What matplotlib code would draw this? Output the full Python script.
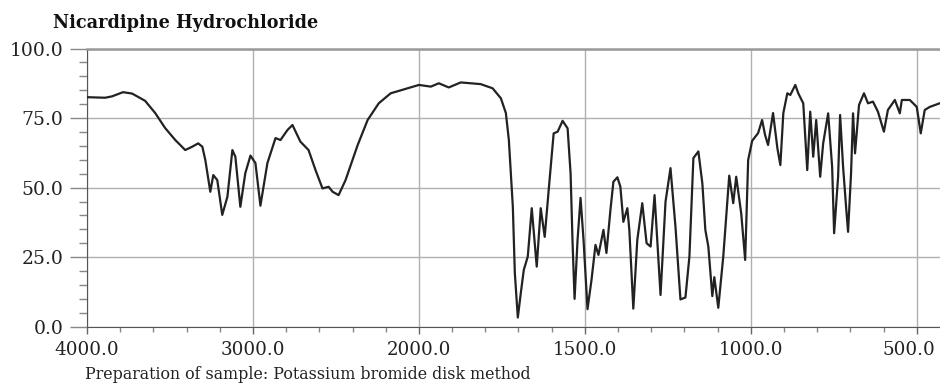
import numpy as np
import matplotlib
matplotlib.use("Agg")
import matplotlib.pyplot as plt
import matplotlib.transforms as mtransforms

# IR spectrum: wavenumber (cm-1) and transmittance (%)
# 4000 - 2000 cm-1
wn_high = [4000, 3891, 3849, 3783, 3728, 3650, 3589, 3529, 3468, 3408,
           3366, 3330, 3305, 3287, 3257, 3239, 3215, 3185, 3154, 3124,
           3106, 3076, 3046, 3015, 2985, 2955, 2913, 2864, 2834, 2792,
           2762, 2714, 2665, 2623, 2581, 2544, 2520, 2484, 2442, 2369,
           2309, 2242, 2170, 2091, 2000]
t_high = [82.5, 82.3, 82.8, 84.3, 83.8, 81.2, 76.8, 71.4, 67.1, 63.5,
          64.7, 65.9, 64.7, 59.9, 48.5, 54.5, 52.7, 40.2, 46.7, 63.5,
          61.1, 43.1, 55.2, 61.5, 58.8, 43.5, 58.8, 67.8, 67.1, 70.7,
          72.5, 66.5, 63.5, 56.3, 49.7, 50.3, 48.5, 47.3, 52.7, 65.3,
          74.3, 80.3, 83.9, 85.3, 86.9]

# 2000 - 1400 cm-1
wn_carbonyl = [1964, 1940, 1910, 1874, 1814, 1778, 1753, 1738, 1729, 1717,
               1711, 1702, 1693, 1684, 1672, 1660, 1645, 1633, 1621, 1609,
               1594, 1582, 1567, 1552, 1543, 1537, 1531, 1522, 1513, 1504,
               1492, 1480, 1468, 1459, 1444, 1435, 1423, 1414, 1402]
t_carbonyl = [86.3, 87.5, 86.0, 87.8, 87.2, 85.7, 82.1, 76.8, 67.1, 43.1,
              19.3, 3.3, 12.1, 20.4, 25.2, 42.6, 21.6, 42.6, 32.3, 49.1,
              69.5, 70.1, 74.0, 71.3, 55.1, 30.0, 10.0, 31.2, 46.3, 31.2,
              6.3, 16.8, 29.4, 25.8, 34.8, 26.5, 41.9, 52.1, 53.7]

# 1400 - 1000 cm-1
wn_finger = [1393, 1384, 1372, 1366, 1354, 1342, 1327, 1314, 1302, 1290,
             1272, 1257, 1242, 1227, 1212, 1197, 1185, 1173, 1158, 1146,
             1137, 1128, 1116, 1110, 1098, 1083, 1065, 1053, 1044, 1029,
             1017, 1008, 996]
t_finger = [50.3, 37.7, 42.6, 34.8, 6.5, 31.2, 44.4, 30.0, 28.8, 47.3,
            11.4, 44.9, 57.0, 35.9, 9.8, 10.5, 25.2, 60.6, 63.0, 51.5,
            34.8, 28.8, 11.0, 17.8, 6.8, 25.2, 54.3, 44.4, 53.9, 40.8,
            24.0, 59.9, 66.8]

# 1000 - 430 cm-1
wn_low = [978, 966, 957, 948, 933, 920, 911, 902, 890, 881,
          866, 857, 842, 830, 821, 812, 803, 791, 782, 767,
          755, 749, 737, 731, 722, 713, 707, 698, 692, 686,
          674, 659, 647, 632, 617, 599, 587, 566, 551, 545,
          521, 500, 488, 476, 461, 431]
t_low = [69.6, 74.3, 68.9, 65.3, 76.8, 64.2, 58.1, 76.8, 83.9, 83.3,
         86.9, 83.9, 80.3, 56.3, 77.3, 61.1, 74.3, 53.9, 65.9, 76.7,
         57.5, 33.6, 53.9, 76.1, 57.5, 43.1, 34.1, 55.1, 76.7, 62.3,
         79.7, 83.9, 80.3, 80.9, 77.3, 70.1, 77.9, 81.5, 76.7, 81.5,
         81.5, 79.0, 69.5, 77.9, 79.0, 80.3]

x_major = [4000, 3000, 2000, 1500, 1000, 500]
y_major = [0, 25, 50, 75, 100]

wavenumber = wn_high + wn_carbonyl + wn_finger + wn_low
transmittance = t_high + t_carbonyl + t_finger + t_low


# the chart is drawn at half scale above 2000 cm-1
def forward(w):
    w = np.asarray(w, dtype=float)
    return np.where(w > 2000, 2000 + (w - 2000) / 2, w)


def inverse(u):
    u = np.asarray(u, dtype=float)
    return np.where(u > 2000, 2000 + (u - 2000) * 2, u)


plt.rcParams['font.family'] = ['DejaVu Serif']

fig = plt.figure(figsize=(9.4, 3.88), dpi=100)
ax = fig.add_axes([87 / 940, 61.3 / 388, 853 / 940, 278.2 / 388])

ax.plot(wavenumber, transmittance, color='#222222', lw=1.6, zorder=3)

ax.set_xscale('function', functions=(forward, inverse))
ax.set_xlim(4000, 430)
ax.set_ylim(0, 100)

ax.set_xticks(x_major)
ax.set_xticklabels([f'{v:.1f}' for v in x_major])
ax.set_xticks([w for w in list(range(3800, 2000, -200)) + list(range(1900, 430, -100))
               if w not in x_major], minor=True)
ax.set_yticks(y_major)
ax.set_yticklabels([f'{v:.1f}' for v in y_major])
ax.set_yticks(np.arange(0, 100, 5), minor=True)

ax.grid(which='major', color='#b0b0b0', lw=1.0)
ax.tick_params(axis='y', which='major', length=12, width=1, color='#888888',
               pad=5, labelsize=13.5, labelcolor='#222222')
ax.tick_params(axis='y', which='minor', length=6, width=1, color='#888888')
ax.tick_params(axis='x', which='major', length=5, width=1, color='#666666',
               pad=5, labelsize=13.2, labelcolor='#222222')
ax.tick_params(axis='x', which='minor', length=3.5, width=1, color='#888888')

# last label sits a little left of its tick, as in the reference
last = ax.get_xticklabels()[-1]
last.set_transform(last.get_transform() +
                   mtransforms.ScaledTranslation(-8 / 100, 0, fig.dpi_scale_trans))

ax.spines['right'].set_visible(False)
ax.spines['top'].set_color('#999999')
ax.spines['top'].set_linewidth(1.8)
ax.spines['left'].set_color('#555555')
ax.spines['bottom'].set_color('#555555')

fig.text(53 / 940, 1 - 28 / 388, 'Nicardipine Hydrochloride', fontsize=12.7,
         fontweight='bold', ha='left', va='baseline', color='#111111')
fig.text(85 / 940, 1 - 379 / 388, 'Preparation of sample: Potassium bromide disk method',
         fontsize=11.4, ha='left', va='baseline', color='#222222')

fig.savefig('out.png', dpi=100)
